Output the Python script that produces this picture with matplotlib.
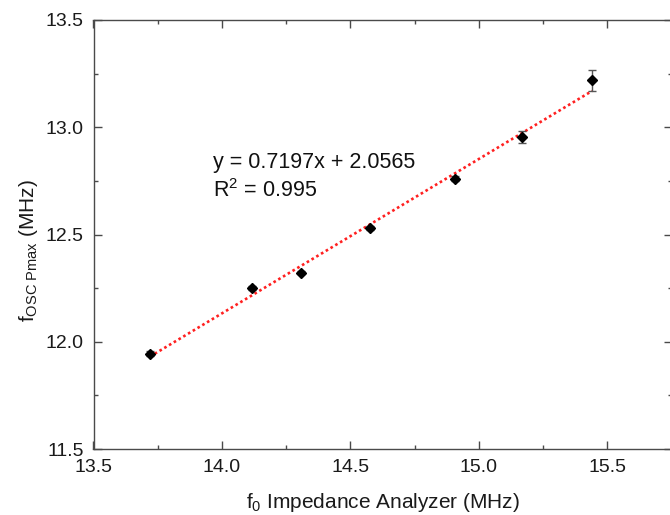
import numpy as np
import matplotlib
matplotlib.use("Agg")
import matplotlib.pyplot as plt
from matplotlib.ticker import MultipleLocator, FormatStrFormatter

plt.rcParams['font.family'] = ['Liberation Sans', 'DejaVu Sans']
plt.rcParams['mathtext.fontset'] = 'custom'
plt.rcParams['mathtext.rm'] = 'Liberation Sans'
plt.rcParams['mathtext.it'] = 'Liberation Sans'

# Resonance frequency from impedance analyzer vs. oscillator frequency at max power
f0 = [13.720, 14.118, 14.307, 14.576, 14.907, 15.169, 15.441]
f_osc = [11.945, 12.250, 12.322, 12.529, 12.761, 12.954, 13.220]
f_osc_err = [0.010, 0.008, 0.008, 0.010, 0.010, 0.029, 0.049]

# linear fit reported on the chart
slope, intercept, r2 = 0.7197, 2.0565, 0.995

W, H = 670, 515
fig = plt.figure(figsize=(W / 100, H / 100), dpi=100)
ax = fig.add_axes([93.5 / W, 66 / H, 578 / W, 429 / H])

xf = np.array([f0[0], f0[-1]])
ax.plot(xf, slope * xf + intercept, linestyle=(0, (1, 1.1)), color='#ff2020',
        linewidth=1.9, zorder=2)

ax.errorbar(f0, f_osc, yerr=f_osc_err, fmt='D', color='black', markersize=4.8,
            ecolor='#555555', elinewidth=1.0, capsize=3.2, capthick=1.0, zorder=3)

ax.set_xlim(13.5, 15.75)
ax.set_ylim(11.5, 13.5)
ax.xaxis.set_major_locator(MultipleLocator(0.5))
ax.xaxis.set_minor_locator(MultipleLocator(0.25))
ax.yaxis.set_major_locator(MultipleLocator(0.5))
ax.yaxis.set_minor_locator(MultipleLocator(0.25))
ax.xaxis.set_major_formatter(FormatStrFormatter('%.1f'))
ax.yaxis.set_major_formatter(FormatStrFormatter('%.1f'))

for s in ax.spines.values():
    s.set_color('#4a4a4a')
    s.set_linewidth(1.0)
ax.tick_params(which='both', direction='in', top=True, right=True,
               color='#4a4a4a', labelsize=14, labelcolor='#1a1a1a')
ax.tick_params(which='major', length=6, width=1.0, pad=7)
ax.tick_params(which='minor', length=3.2, width=1.0)

ax.set_xlabel(r'f$_0$ Impedance Analyzer (MHz)', fontsize=15, color='#1a1a1a')
ax.xaxis.label.set(va='center')
ax.xaxis.set_label_coords(0.501, -(503 - 449) / 429)

ax.set_ylabel(r'f$_{\mathregular{OSC\ Pmax}}$ (MHz)', fontsize=15, color='#1a1a1a')
ax.yaxis.label.set(va='center', ha='center', rotation_mode='default')
ax.yaxis.set_label_coords((28 - 93.5) / 578, (449 - 251) / 429)

ax.text(213, H - 167.7, f'y = {slope}x + {intercept}', transform=None,
        fontsize=15.5, color='#111111', va='baseline', ha='left')
ax.text(213, H - 196.7, r'R$^\mathregular{2}$ = ' + f'{r2}', transform=None,
        fontsize=15.5, color='#111111', va='baseline', ha='left')

fig.savefig('out.png', dpi=100)
